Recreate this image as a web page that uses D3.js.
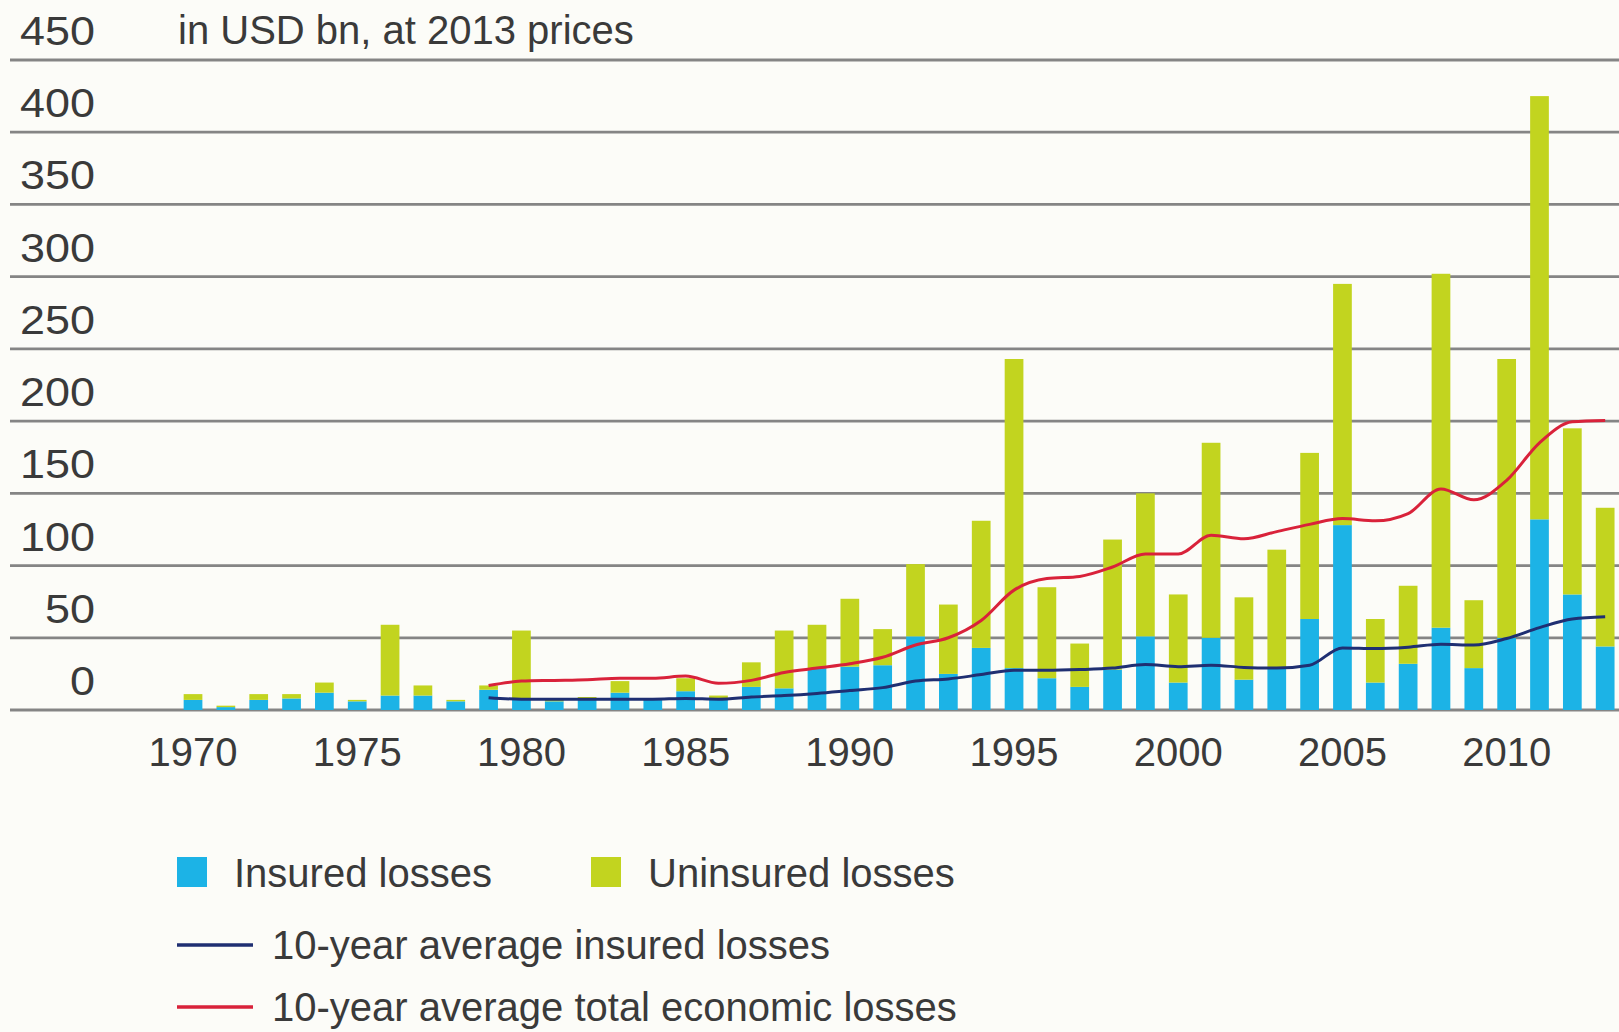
<!DOCTYPE html>
<html>
<head>
<meta charset="utf-8">
<script src="https://cdn.jsdelivr.net/npm/d3@7"></script>
<style>
  html, body { margin: 0; padding: 0; background: #fcfcf8; }
  svg { display: block; }
  text { font-family: "Liberation Sans", Arial, Helvetica, sans-serif; fill: #3a3a3a; }
</style>
</head>
<body>
<svg id="chart" width="1619" height="1032"></svg>
<script>
// ---- Data (USD bn, at 2013 prices) ----
const years = d3.range(1970, 2014);
const insured = [7, 2, 7, 8, 12, 6, 10, 10, 6, 14,
                 8, 6, 8, 12, 7, 13, 8, 16, 15, 29,
                 30, 31, 51, 25, 43, 29, 22, 16, 28, 51,
                 19, 50, 21, 29, 63, 128, 19, 32, 57, 29,
                 50, 132, 80, 44];
const uninsured = [4, 1, 4, 3, 7, 1, 49, 7, 1, 3,
                   47, 1, 1, 8, 1, 9, 2, 17, 40, 30,
                   47, 25, 50, 48, 88, 214, 63, 30, 90, 99,
                   61, 135, 57, 82, 115, 167, 44, 54, 245, 47,
                   193, 293, 115, 96];
const avgYears = d3.range(1979, 2014);
const avgTotal = [17, 20, 20.5, 21, 22, 22, 23.5, 18.5, 20.5, 26,
                  29, 32, 36.5, 45, 50, 62, 83, 91, 92.5, 99,
                  108, 108, 121, 118.5, 123.5, 128.5, 132.5, 131, 136, 153,
                  145.5, 159, 185, 199.5, 200.5];
const avgInsured = [8.5, 7.5, 7.5, 7.5, 7.5, 7.5, 8, 7.5, 9, 10,
                    11.5, 13.5, 15.5, 20, 21.5, 24.5, 27.5, 27.5, 28, 29,
                    31.5, 30, 31, 29.5, 29, 31, 43, 42.5, 43.5, 45.5,
                    45, 49.5, 57, 63, 64.5];
const yTicks = [0, 50, 100, 150, 200, 250, 300, 350, 400, 450];
const xTicks = [1970, 1975, 1980, 1985, 1990, 1995, 2000, 2005, 2010];
const unitLabel = "in USD bn, at 2013 prices";
const legendBars = ["Insured losses", "Uninsured losses"];
const legendLines = ["10-year average insured losses", "10-year average total economic losses"];

const colors = {
  insured: "#1cb3e6",
  uninsured: "#c2d41f",
  avgInsured: "#1f2f72",
  avgTotal: "#d9223a",
  grid: "#858585"
};

const svg = d3.select("#chart");

const x = d3.scaleBand()
  .domain(years)
  .range([176.6, 1621.6])
  .paddingInner(0.43)
  .paddingOuter(0.215);

const y = d3.scaleLinear().domain([0, 450]).range([710, 60]);

// Gridlines
svg.append("g").selectAll("line")
  .data(yTicks)
  .join("line")
  .attr("x1", 10).attr("x2", 1619)
  .attr("y1", d => y(d)).attr("y2", d => y(d))
  .attr("stroke", colors.grid)
  .attr("stroke-width", 2.8);

// Y labels (sit above their gridlines)
svg.append("g").selectAll("text")
  .data(yTicks)
  .join("text")
  .attr("x", 95)
  .attr("y", d => y(d) - 15)
  .attr("text-anchor", "end")
  .attr("font-size", 41)
  .attr("textLength", d => String(d).length * 25)
  .attr("lengthAdjust", "spacingAndGlyphs")
  .text(d => d);

svg.append("text")
  .attr("x", 178)
  .attr("y", 44)
  .attr("font-size", 40)
  .text(unitLabel);

// Stacked bars
const rows = years.map((yr, i) => ({ year: yr, insured: insured[i], uninsured: uninsured[i] }));
const stack = d3.stack().keys(["insured", "uninsured"])(rows);

svg.append("g").selectAll("g")
  .data(stack)
  .join("g")
  .attr("fill", d => colors[d.key])
  .selectAll("rect")
  .data(d => d)
  .join("rect")
  .attr("x", d => x(d.data.year))
  .attr("width", x.bandwidth())
  .attr("y", d => y(d[1]))
  .attr("height", d => y(d[0]) - y(d[1]));

// X axis labels
const xAxis = d3.axisBottom(x).tickValues(xTicks).tickSize(0).tickPadding(0);
const gx = svg.append("g").attr("transform", "translate(0,710)").call(xAxis);
gx.select(".domain").remove();
gx.selectAll("text")
  .attr("font-size", 40)
  .attr("font-family", null)
  .attr("fill", "#3a3a3a")
  .attr("dy", null)
  .attr("y", 56);

// Average lines
const line = d3.line()
  .x(d => x(d[0]) + x.bandwidth() / 2)
  .y(d => y(d[1]))
  .curve(d3.curveMonotoneX);

svg.append("path")
  .datum(avgYears.map((yr, i) => [yr, avgInsured[i]]))
  .attr("fill", "none")
  .attr("stroke", colors.avgInsured)
  .attr("stroke-width", 3)
  .attr("d", line);

svg.append("path")
  .datum(avgYears.map((yr, i) => [yr, avgTotal[i]]))
  .attr("fill", "none")
  .attr("stroke", colors.avgTotal)
  .attr("stroke-width", 3)
  .attr("d", line);

// Legend
const lg = svg.append("g");
const barLegendX = [177, 591];
legendBars.forEach((label, i) => {
  lg.append("rect")
    .attr("x", barLegendX[i]).attr("y", 857)
    .attr("width", 30).attr("height", 30)
    .attr("fill", i === 0 ? colors.insured : colors.uninsured);
  lg.append("text")
    .attr("x", barLegendX[i] + 57).attr("y", 887)
    .attr("font-size", 40)
    .text(label);
});
const lineLegendY = [945, 1007];
legendLines.forEach((label, i) => {
  lg.append("line")
    .attr("x1", 177).attr("x2", 253)
    .attr("y1", lineLegendY[i]).attr("y2", lineLegendY[i])
    .attr("stroke", i === 0 ? colors.avgInsured : colors.avgTotal)
    .attr("stroke-width", 3.5);
  lg.append("text")
    .attr("x", 272).attr("y", lineLegendY[i] + 14)
    .attr("font-size", 40)
    .text(label);
});
</script>
</body>
</html>
